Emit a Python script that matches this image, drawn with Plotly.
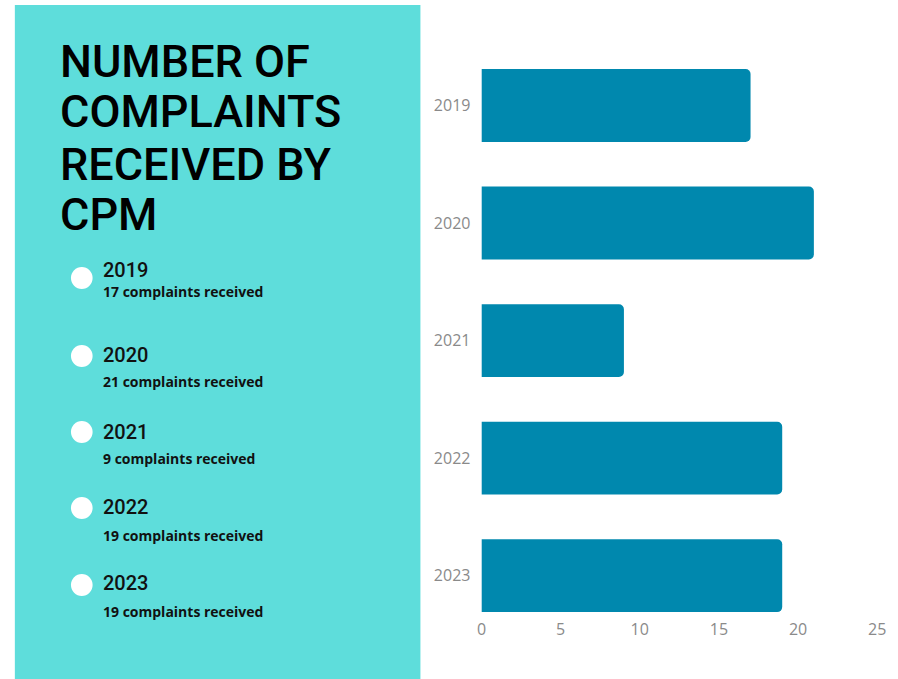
import plotly.graph_objects as go

years = ["2019", "2020", "2021", "2022", "2023"]
complaints = [17, 21, 9, 19, 19]
x_ticks = [0, 5, 10, 15, 20, 25]
title_lines = ["NUMBER OF", "COMPLAINTS", "RECEIVED BY", "CPM"]

W, H = 898, 679
def px(x): return x / W
def py(y): return 1 - y / H

BAR = "#0088AE"
TEAL = "#5EDDDB"

fig = go.Figure()
fig.add_trace(go.Bar(
    x=complaints, y=years, orientation="h",
    marker=dict(color=BAR, cornerradius=5, line=dict(width=0)),
    width=0.62, hoverinfo="x+y",
))

# left panel
fig.add_shape(type="rect", xref="paper", yref="paper",
              x0=px(10), x1=px(422), y0=py(679), y1=py(5),
              fillcolor=TEAL, line=dict(width=0), layer="below")

# title lines
title_y = [61, 112, 164, 214]
for t, yy in zip(title_lines, title_y):
    fig.add_annotation(text=t, xref="paper", yref="paper", x=px(54), y=py(yy),
                       xanchor="left", yanchor="middle", showarrow=False,
                       font=dict(family="Roboto", size=45, weight=500, color="#000000"))

circle_y = [278, 356, 432, 508, 585]
year_y = [270, 355, 432, 507, 583]
sub_y = [291, 381, 458, 535, 611]
for yr, c, cy, yy, sy in zip(years, complaints, circle_y, year_y, sub_y):
    r = 11
    fig.add_shape(type="circle", xref="paper", yref="paper",
                  x0=px(78 - r), x1=px(78 + r), y0=py(cy + r), y1=py(cy - r),
                  fillcolor="#FFFFFF", line=dict(width=0))
    fig.add_annotation(text=yr, xref="paper", yref="paper", x=px(98), y=py(yy),
                       xanchor="left", yanchor="middle", showarrow=False,
                       font=dict(family="Roboto", size=20, weight=500, color="#111111"))
    fig.add_annotation(text=f"<b>{c} complaints received</b>", xref="paper", yref="paper",
                       x=px(98), y=py(sy), xanchor="left", yanchor="middle", showarrow=False,
                       font=dict(family="Open Sans", size=14, color="#111111"))

fig.update_layout(
    width=W, height=H,
    margin=dict(l=0, r=0, t=0, b=0),
    paper_bgcolor="#FFFFFF", plot_bgcolor="rgba(0,0,0,0)",
    showlegend=False,
    xaxis=dict(domain=[px(484), px(886)], range=[0, 25], tickvals=x_ticks,
               showgrid=False, zeroline=False, showline=False,
               tickfont=dict(family="Open Sans", size=16, color="#8A8A8A")),
    yaxis=dict(domain=[py(618), py(46.75)], type="category",
               categoryorder="array", categoryarray=years,
               range=[4.36, -0.5], showgrid=False, zeroline=False, showline=False,
               ticklabelstandoff=10,
               tickfont=dict(family="Open Sans", size=16, color="#8A8A8A")),
)

fig.write_html(
    "out.html",
    config={"displayModeBar": False},
    post_script="document.body.style.margin='0';document.body.style.overflow='hidden';",
)
